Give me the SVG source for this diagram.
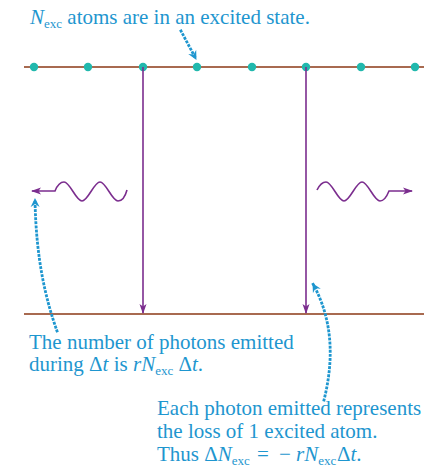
<svg xmlns="http://www.w3.org/2000/svg" width="441" height="469" viewBox="0 0 441 469">
<defs>
<style>
.lvl{stroke:#a86a50;stroke-width:2;fill:none}
.atom{fill:#21b8ad}
.ph{stroke:#7b2d8e;stroke-width:1.6;fill:none}
.dot{stroke:#1e96cf;stroke-width:2.8;fill:none;stroke-dasharray:0.1 4;stroke-linecap:square}
.t{font-family:"Liberation Serif","Times New Roman",serif;font-size:21px;fill:#1e96cf}
.i{font-style:italic}
.s{font-size:13px}
</style>
<marker id="ah" viewBox="0 0 10 10" refX="9" refY="5" markerWidth="10" markerHeight="10" markerUnits="userSpaceOnUse" orient="auto">
<path d="M0,1.5 L10,5 L0,8.5 L2.5,5 Z" fill="#7b2d8e"/>
</marker>
<marker id="bh" viewBox="0 0 10 10" refX="8" refY="5" markerWidth="10" markerHeight="10" markerUnits="userSpaceOnUse" orient="auto">
<path d="M0,0.5 L9,5 L0,9.5 L3,5 Z" fill="#1e96cf"/>
</marker>
</defs>
<g id="levels">
<line class="lvl" x1="24" y1="67" x2="424" y2="67"/>
<line class="lvl" x1="24" y1="314" x2="424" y2="314"/>
</g>
<g id="atoms">
<circle class="atom" cx="34" cy="67" r="4.2"/>
<circle class="atom" cx="88" cy="67" r="4.2"/>
<circle class="atom" cx="143" cy="67" r="4.2"/>
<circle class="atom" cx="197" cy="67" r="4.2"/>
<circle class="atom" cx="252" cy="67" r="4.2"/>
<circle class="atom" cx="306" cy="67" r="4.2"/>
<circle class="atom" cx="361" cy="67" r="4.2"/>
<circle class="atom" cx="415" cy="67" r="4.2"/>
</g>
<g id="connectors">
<line class="ph" x1="143" y1="67" x2="143" y2="313" marker-end="url(#ah)"/>
<line class="ph" x1="306" y1="67" x2="306" y2="313" marker-end="url(#ah)"/>
<path class="ph" d="M127,190 C124,201 120,201 118,201 C112,201 106,182 100,182 C94,182 88,201 82,201 C76,201 70,182 64,182 C60,182 57,186 55,191 L32,191" marker-end="url(#ah)"/>
<path class="ph" d="M317,190 C320,184 323,182 326,182 C332,182 338,201 344,201 C350,201 356,182 362,182 C368,182 374,201 380,201 C384,201 387,196 389,191 L412,191" marker-end="url(#ah)"/>
<path class="dot" d="M181,31 L196,59" marker-end="url(#bh)"/>
<path class="dot" d="M57,331 C46,300 36,260 35,199" marker-end="url(#bh)"/>
<path class="dot" d="M324,400 C334,360 333,320 313,284" marker-end="url(#bh)"/>
</g>
<g id="label-top">
<text class="t" x="30" y="24"><tspan class="i">N</tspan><tspan class="s" dy="4">exc</tspan><tspan dy="-4"> atoms are in an excited state.</tspan></text>
</g>
<g id="label-left">
<text class="t" x="29" y="349">The number of photons emitted</text>
<text class="t" x="29" y="371">during Δ<tspan class="i">t</tspan> is <tspan class="i">rN</tspan><tspan class="s" dy="4">exc</tspan><tspan dy="-4"> Δ</tspan><tspan class="i">t</tspan>.</text>
</g>
<g id="label-right">
<text class="t" x="157" y="415">Each photon emitted represents</text>
<text class="t" x="157" y="438">the loss of 1 excited atom.</text>
<text class="t" x="157" y="461">Thus Δ<tspan class="i">N</tspan><tspan class="s" dy="4">exc</tspan><tspan x="257" dy="-4">=</tspan><tspan x="279">−</tspan><tspan class="i" x="296">rN</tspan><tspan class="s" dy="4">exc</tspan><tspan x="337" dy="-4">Δ</tspan><tspan class="i">t</tspan>.</text>
</g>
</svg>
